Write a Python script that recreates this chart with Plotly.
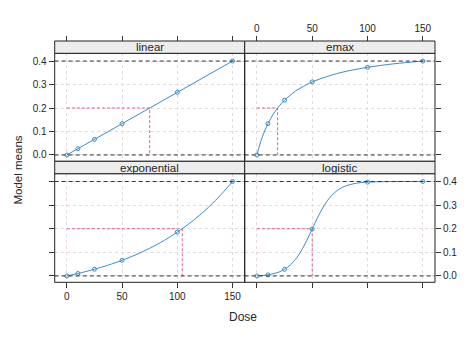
import plotly.graph_objects as go

# ---------------- data ----------------
models = ["linear", "emax", "exponential", "logistic"]
doses = [0, 10, 25, 50, 100, 150]
means_linear = [0.0, 0.0267, 0.0667, 0.1333, 0.2667, 0.4]
means_emax = [0.0, 0.1333, 0.2333, 0.3111, 0.3733, 0.4]
means_exponential = [0.0, 0.0103, 0.0283, 0.0662, 0.1854, 0.4]
means_logistic = [0.0, 0.0045, 0.0279, 0.1987, 0.3973, 0.4]

curve_x_linear = [0, 150]
curve_y_linear = [0.0, 0.4]
curve_x_emax = [0, 2.5, 5, 10, 15, 20, 25, 35, 50, 75, 100, 125, 150]
curve_y_emax = [0.0, 0.0424, 0.0778, 0.1333, 0.175, 0.2074, 0.2333, 0.2722, 0.3111, 0.35, 0.3733, 0.3889, 0.4]
curve_x_exponential = [0, 10, 12.5, 25, 37.5, 50, 62.5, 75, 87.5, 100, 112.5, 125, 137.5, 150]
curve_y_exponential = [0.0, 0.0103, 0.0131, 0.0283, 0.0458, 0.0662, 0.0898, 0.1171, 0.1487, 0.1854, 0.2278, 0.277, 0.334, 0.4]
curve_x_logistic = [0, 10, 20, 25, 30, 35, 40, 45, 50, 55, 60, 65, 70, 75, 80, 90, 100, 125, 150]
curve_y_logistic = [0.0, 0.0045, 0.0164, 0.0279, 0.0453, 0.0708, 0.1056, 0.1493, 0.1987, 0.248, 0.2917, 0.3266, 0.352, 0.3695, 0.3809, 0.3928, 0.3973, 0.3998, 0.4]

target_effect = 0.2
max_effect = 0.4
target_doses = [75, 18.75, 104.5, 50]

x_ticks = [0, 50, 100, 150]
y_ticks = [0.0, 0.1, 0.2, 0.3, 0.4]
y_tick_text = ["0.0", "0.1", "0.2", "0.3", "0.4"]

means = [means_linear, means_emax, means_exponential, means_logistic]
curves = [(curve_x_linear, curve_y_linear), (curve_x_emax, curve_y_emax),
          (curve_x_exponential, curve_y_exponential), (curve_x_logistic, curve_y_logistic)]

# ---------------- layout geometry (pixels) ----------------
W, H = 474, 338
px = lambda v: v / W
py = lambda v: 1 - v / H
col_x = [(54.7, 244.7), (244.7, 435.0)]
row_strip = [(41.0, 53.3), (161.3, 173.7)]
row_panel = [(53.3, 161.3), (173.7, 282.3)]

BLUE = "#3a8dc4"
RED = "#e4607f"
GRID = "#e6d9de"
TXT = "#262626"

fig = go.Figure()
layout = dict(width=W, height=H, margin=dict(l=0, r=0, t=0, b=0),
              plot_bgcolor="white", paper_bgcolor="white", showlegend=False,
              font=dict(family="Liberation Sans, Arial, sans-serif", color=TXT, size=10))
shapes = []
annotations = []

for i, name in enumerate(models):
    r, c = divmod(i, 2)
    k = i + 1
    xa = "xaxis" if k == 1 else f"xaxis{k}"
    ya = "yaxis" if k == 1 else f"yaxis{k}"
    xr = "x" if k == 1 else f"x{k}"
    yr = "y" if k == 1 else f"y{k}"
    x0, x1 = col_x[c]
    t0, t1 = row_panel[r]
    s0, s1 = row_strip[r]

    xaxis = dict(domain=[px(x0), px(x1)], range=[-11, 161], tickvals=x_ticks,
                 showgrid=True, gridcolor=GRID, griddash="3px,3px", gridwidth=1,
                 zeroline=False, showline=False, ticks="outside", ticklen=5,
                 tickcolor="#333", tickfont=dict(size=10, color=TXT))
    if r == 0:
        xaxis.update(side="top", anchor="free", position=py(s0),
                     showticklabels=(c == 1))
    else:
        xaxis.update(side="bottom", anchor=yr, showticklabels=(c == 0))
    yaxis = dict(domain=[py(t1), py(t0)], range=[-0.027, 0.433], tickvals=y_ticks,
                 ticktext=y_tick_text, showgrid=True, gridcolor=GRID, griddash="3px,3px",
                 gridwidth=1, zeroline=False, showline=False, ticks="outside", ticklen=5,
                 tickcolor="#333", anchor=xr, tickfont=dict(size=10, color=TXT))
    if c == 0:
        yaxis.update(side="left", showticklabels=(r == 0))
    else:
        yaxis.update(side="right", showticklabels=(r == 1))
    layout[xa] = xaxis
    layout[ya] = yaxis

    # reference lines at 0 and max effect
    for yv in (0.0, max_effect):
        shapes.append(dict(type="line", xref=f"{xr} domain", yref=yr, x0=0, x1=1,
                           y0=yv, y1=yv, line=dict(color="#333", width=1, dash="4px,3px"),
                           layer="above"))
    # panel border
    shapes.append(dict(type="rect", xref=f"{xr} domain", yref=f"{yr} domain",
                       x0=0, x1=1, y0=0, y1=1, line=dict(color="#222", width=1),
                       layer="above"))
    # strip
    shapes.append(dict(type="rect", xref="paper", yref="paper", x0=px(x0), x1=px(x1),
                       y0=py(s1), y1=py(s0), fillcolor="#ededed",
                       line=dict(color="#222", width=1), layer="above"))
    annotations.append(dict(text=name, xref="paper", yref="paper",
                            x=(px(x0) + px(x1)) / 2, y=(py(s0) + py(s1)) / 2,
                            showarrow=False, font=dict(size=11.5, color=TXT),
                            xanchor="center", yanchor="middle"))

    td = target_doses[i]
    fig.add_trace(go.Scatter(x=[0, td, td], y=[target_effect, target_effect, 0.0],
                             mode="lines", line=dict(color=RED, width=1, dash="3px,2px"),
                             xaxis=xr, yaxis=yr, hoverinfo="skip"))
    cx, cy = curves[i]
    fig.add_trace(go.Scatter(x=cx, y=cy, mode="lines",
                             line=dict(color=BLUE, width=1, shape="spline", smoothing=0.8),
                             xaxis=xr, yaxis=yr))
    fig.add_trace(go.Scatter(x=doses, y=means[i], mode="markers",
                             marker=dict(symbol="circle-open", size=4, color=BLUE,
                                         line=dict(width=1, color=BLUE)),
                             xaxis=xr, yaxis=yr))

annotations.append(dict(text="Model means", xref="paper", yref="paper",
                        x=px(17.5), y=py(170), textangle=-90, showarrow=False,
                        font=dict(size=11.5, color=TXT), xanchor="center", yanchor="middle"))
annotations.append(dict(text="Dose", xref="paper", yref="paper",
                        x=px(243), y=py(316.7), showarrow=False,
                        font=dict(size=12, color=TXT), xanchor="center", yanchor="middle"))

layout["shapes"] = shapes
layout["annotations"] = annotations
fig.update_layout(**layout)
fig.write_html("out.html")
